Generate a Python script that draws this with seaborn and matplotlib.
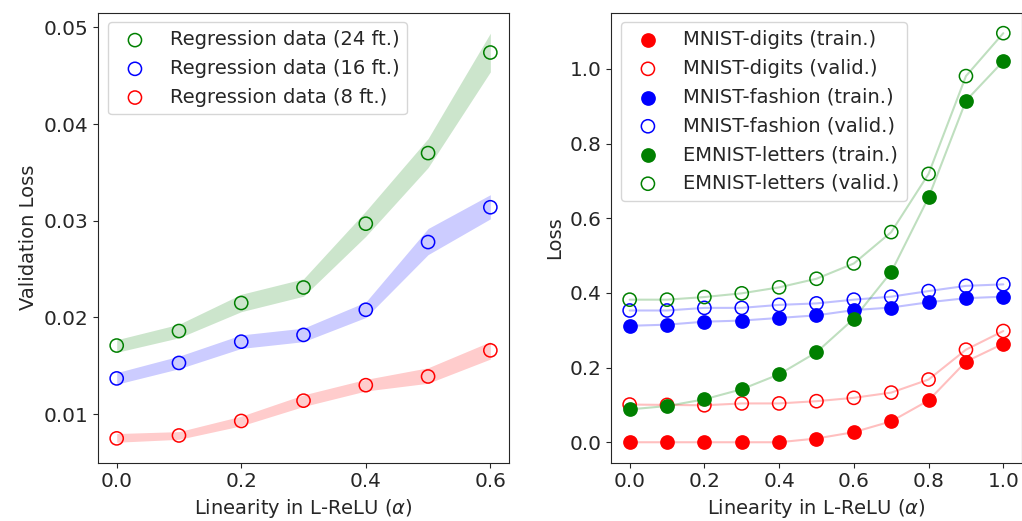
import numpy as np
import matplotlib
matplotlib.use("Agg")
import matplotlib.pyplot as plt
import seaborn as sns

# ---------------- data ----------------
alpha_left = [0.0, 0.1, 0.2, 0.3, 0.4, 0.5, 0.6]
reg24 = [0.0171, 0.0186, 0.0215, 0.0231, 0.0297, 0.0370, 0.0474]
reg24_lo = [0.0164, 0.0179, 0.0206, 0.0222, 0.0284, 0.0355, 0.0454]
reg24_hi = [0.0177, 0.0193, 0.0224, 0.0240, 0.0310, 0.0385, 0.0494]
reg16 = [0.0137, 0.0153, 0.0175, 0.0182, 0.0208, 0.0278, 0.0314]
reg16_lo = [0.0131, 0.0147, 0.0168, 0.0175, 0.0200, 0.0265, 0.0302]
reg16_hi = [0.0143, 0.0160, 0.0182, 0.0189, 0.0216, 0.0292, 0.0327]
reg8 = [0.0075, 0.0078, 0.0093, 0.0114, 0.0130, 0.0139, 0.0166]
reg8_lo = [0.0071, 0.0074, 0.0088, 0.0108, 0.0124, 0.0132, 0.0157]
reg8_hi = [0.0080, 0.0082, 0.0098, 0.0120, 0.0136, 0.0148, 0.0175]
left_labels = ["Regression data (24 ft.)", "Regression data (16 ft.)", "Regression data (8 ft.)"]

alpha_right = [0.0, 0.1, 0.2, 0.3, 0.4, 0.5, 0.6, 0.7, 0.8, 0.9, 1.0]
mnist_train = [0.0, 0.0, 0.0, 0.0, 0.0, 0.010, 0.027, 0.056, 0.112, 0.216, 0.264]
mnist_valid = [0.101, 0.100, 0.099, 0.104, 0.104, 0.110, 0.119, 0.133, 0.168, 0.248, 0.298]
fashion_train = [0.312, 0.315, 0.323, 0.326, 0.333, 0.340, 0.354, 0.361, 0.375, 0.386, 0.390]
fashion_valid = [0.353, 0.353, 0.360, 0.360, 0.368, 0.372, 0.382, 0.390, 0.405, 0.419, 0.423]
emnist_train = [0.088, 0.097, 0.115, 0.142, 0.182, 0.241, 0.331, 0.456, 0.656, 0.915, 1.021]
emnist_valid = [0.382, 0.382, 0.389, 0.399, 0.415, 0.438, 0.479, 0.563, 0.719, 0.981, 1.096]
right_labels = ["MNIST-digits (train.)", "MNIST-digits (valid.)",
                "MNIST-fashion (train.)", "MNIST-fashion (valid.)",
                "EMNIST-letters (train.)", "EMNIST-letters (valid.)"]

# ---------------- style ----------------
sns.set_style("ticks")
plt.rcParams["font.family"] = ["DejaVu Sans"]
plt.rcParams["font.size"] = 14
plt.rcParams["axes.labelsize"] = 14
plt.rcParams["xtick.labelsize"] = 14.4
plt.rcParams["ytick.labelsize"] = 14.4
plt.rcParams["legend.fontsize"] = 14

fig, (ax1, ax2) = plt.subplots(1, 2, figsize=(10.22, 5.21), dpi=100)
fig.subplots_adjust(left=0.0959, right=1.0, top=0.9756, bottom=0.1119, wspace=0.248)

MS = 90

def hollow(ax, x, y, color, label):
    sns.scatterplot(x=x, y=y, ax=ax, color=color, s=MS, label=label, zorder=3)
    coll = ax.collections[-1]
    coll.set_facecolor("none")
    coll.set_edgecolor(color)
    coll.set_linewidth(1.1)

def filled(ax, x, y, color, label):
    sns.scatterplot(x=x, y=y, ax=ax, color=color, s=MS, label=label, zorder=3)
    coll = ax.collections[-1]
    coll.set_facecolor(color)
    coll.set_edgecolor(color)
    coll.set_linewidth(1.1)

# ---------------- left panel ----------------
for y, lo, hi, c, lab in [(reg24, reg24_lo, reg24_hi, "green", left_labels[0]),
                          (reg16, reg16_lo, reg16_hi, "blue", left_labels[1]),
                          (reg8, reg8_lo, reg8_hi, "red", left_labels[2])]:
    ax1.fill_between(alpha_left, lo, hi, color=c, alpha=0.2, linewidth=0)
    hollow(ax1, alpha_left, y, c, lab)

ax1.set_xlabel(r"Linearity in L-ReLU ($\alpha$)")
ax1.set_ylabel("Validation Loss")
ax1.set_xticks([0.0, 0.2, 0.4, 0.6])
ax1.set_yticks([0.01, 0.02, 0.03, 0.04, 0.05])
ax1.legend(loc="upper left")

# ---------------- right panel ----------------
series = [(mnist_train, "red", True), (mnist_valid, "red", False),
          (fashion_train, "blue", True), (fashion_valid, "blue", False),
          (emnist_train, "green", True), (emnist_valid, "green", False)]
for (y, c, is_train), lab in zip(series, right_labels):
    sns.lineplot(x=alpha_right, y=y, ax=ax2, color=c, alpha=0.25, linewidth=1.5, legend=False)
    if is_train:
        filled(ax2, alpha_right, y, c, lab)
    else:
        hollow(ax2, alpha_right, y, c, lab)

ax2.set_xlabel(r"Linearity in L-ReLU ($\alpha$)")
ax2.set_ylabel("Loss")
ax2.set_xticks([0.0, 0.2, 0.4, 0.6, 0.8, 1.0])
ax2.set_yticks([0.0, 0.2, 0.4, 0.6, 0.8, 1.0])
ax2.legend(loc="upper left")

fig.savefig("out.png", dpi=100)
